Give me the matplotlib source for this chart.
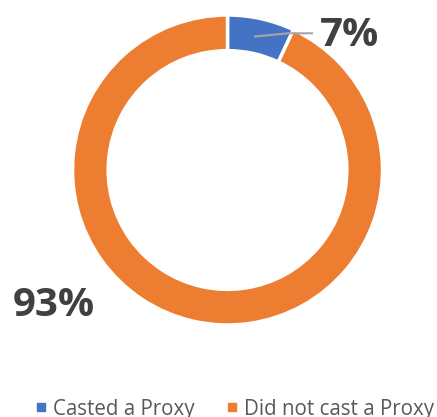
import matplotlib.pyplot as plt
from matplotlib.lines import Line2D

# Proxy voting share
labels = ['Casted a Proxy', 'Did not cast a Proxy']
shares = [7, 93]
colors = ['#4472C4', '#ED7D31']

plt.rcParams['font.family'] = ['Open Sans', 'DejaVu Sans']

fig = plt.figure(figsize=(4.37, 4.17), dpi=100)
# axes sized so the ring sits where it does in the reference
ax = fig.add_axes([72.5 / 437, 92 / 417, 310 / 437, 310 / 417])

wedges, _ = ax.pie(shares, colors=colors, startangle=90, counterclock=False,
                   radius=1.0,
                   wedgeprops=dict(width=0.23, edgecolor='white', linewidth=2.5))
ax.set_xlim(-1, 1)
ax.set_ylim(-1, 1)
ax.set_aspect('equal')
ax.axis('off')

# data labels
ax.text(0.784, 0.865, f'{shares[0]}%', fontsize=29, fontweight='bold',
        color='#404040', ha='center', va='center')
ax.text(-1.119, -0.871, f'{shares[1]}%', fontsize=29, fontweight='bold',
        color='#404040', ha='center', va='center')

# leader line for the small slice
ax.plot([0.177, 0.39, 0.545], [0.861, 0.882, 0.882], color='#A6A6A6',
        linewidth=1.5, clip_on=False)

handles = [Line2D([], [], marker='s', linestyle='none', markersize=6,
                  color=c) for c in colors]
fig.legend(handles, labels, loc='center', bbox_to_anchor=(232.5 / 437, 8 / 417),
           ncol=2, frameon=False, fontsize=14.8, handletextpad=0.1,
           columnspacing=1.3, labelcolor='#595959', handlelength=1.0)

fig.savefig('out.png', dpi=100)
